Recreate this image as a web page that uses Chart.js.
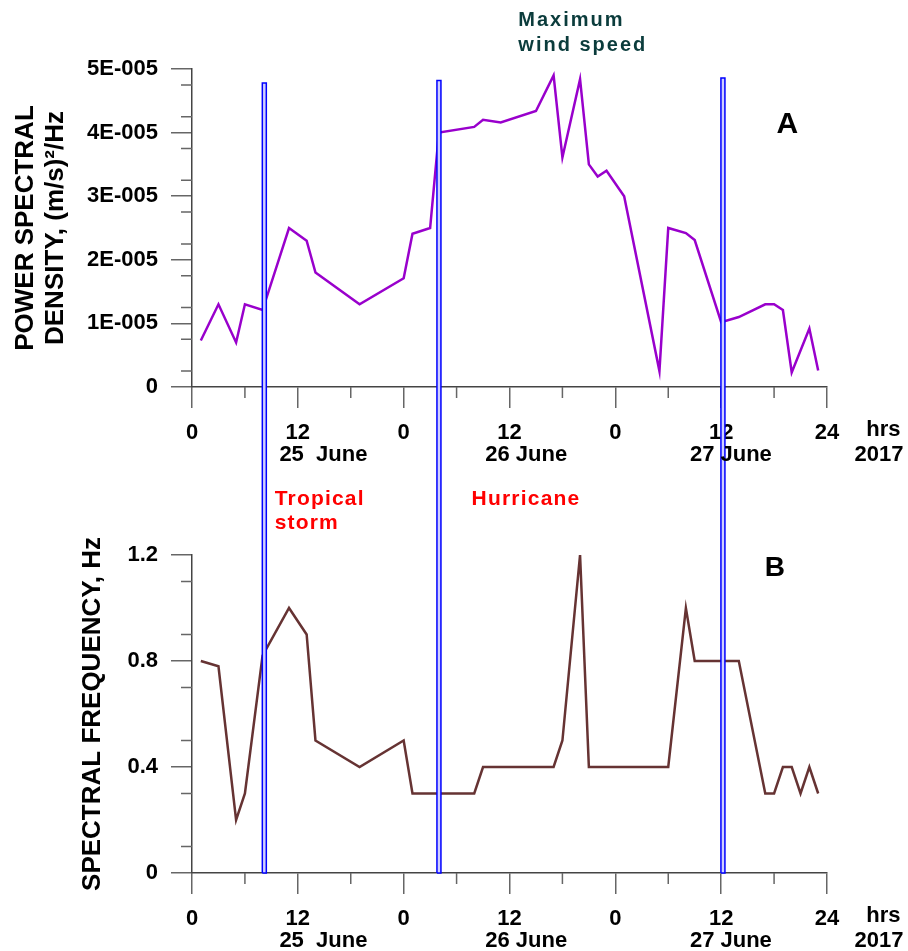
<!DOCTYPE html>
<html>
<head>
<meta charset="utf-8">
<script src="https://cdn.jsdelivr.net/npm/chart.js@4.4.0/dist/chart.umd.min.js"></script>
<style>
  body { margin: 0; background: #fff; }
  #wrap { position: relative; width: 908px; height: 951px; overflow: hidden; }
  canvas { position: absolute; left: 0; }
  #chartA { top: 0; }
  #chartB { top: 475px; }
</style>
</head>
<body>
<div id="wrap">
  <canvas id="chartA" width="908" height="475"></canvas>
  <canvas id="chartB" width="908" height="476"></canvas>
</div>
<script>
// time axis: hours from 00 h on 24 June 2017
const xTickLabels = ['0', '12', '0', '12', '0', '12', '24'];
const dateLabels = ['25  June', '26 June', '27 June', '2017'];
const dateHours = [14.9, 37.9, 61.1, 77.9];

// panel A - power spectral density, in units of 1E-005 (m/s)^2/Hz
const hoursA = [1, 3, 5, 6, 8, 11, 13, 14, 19, 24, 25, 27, 28, 32, 33, 35, 39, 41, 42, 44,
                45, 46, 47, 49, 53, 54, 56, 57, 60, 62, 65, 66, 67, 68, 70, 71];
const psd = [0.73, 1.30, 0.70, 1.30, 1.21, 2.50, 2.30, 1.80, 1.30, 1.71, 2.41, 2.50, 4.00, 4.09, 4.20, 4.16, 4.34, 4.90, 3.61, 4.84,
             3.50, 3.31, 3.40, 3.00, 0.25, 2.50, 2.42, 2.31, 1.02, 1.10, 1.30, 1.30, 1.21, 0.23, 0.92, 0.26];
const yTickLabelsA = ['0', '1E-005', '2E-005', '3E-005', '4E-005', '5E-005'];

// panel B - spectral frequency, Hz
const hoursB = [1, 3, 5, 6, 8, 11, 13, 14, 19, 24, 25, 32, 33, 41, 42, 44, 45, 54, 56, 57,
                62, 65, 66, 67, 68, 69, 70, 71];
const freq = [0.80, 0.78, 0.20, 0.30, 0.82, 1.00, 0.90, 0.50, 0.40, 0.50, 0.30, 0.30, 0.40, 0.40, 0.50, 1.20, 0.40, 0.40, 1.00, 0.80,
              0.80, 0.30, 0.30, 0.40, 0.40, 0.30, 0.40, 0.30];
const yTickLabelsB = ['0', '0.4', '0.8', '1.2'];

// vertical event markers (hours) and where they start in panel A
const markerHours = [8.2, 28.0, 60.2];
const markerTopsA = [4.78, 4.82, 4.86];

Chart.defaults.font.family = '"Liberation Sans", Arial, sans-serif';

const tickFont = { size: 22, weight: 'bold' };

// draws minor ticks, event markers and the text notes
const extras = {
  id: 'extras',
  afterDraw(chart, args, opts) {
    const ctx = chart.ctx;
    const x = chart.scales.x, y = chart.scales.y;
    ctx.save();

    // minor ticks
    ctx.strokeStyle = '#666';
    ctx.lineWidth = 1.5;
    ctx.beginPath();
    for (let v = 6; v < 72; v += 12) {
      const px = x.getPixelForValue(v);
      ctx.moveTo(px, y.bottom);
      ctx.lineTo(px, y.bottom + 11);
    }
    for (let v = opts.yStep / 2; v < y.max; v += opts.yStep) {
      const py = y.getPixelForValue(v);
      ctx.moveTo(x.left, py);
      ctx.lineTo(x.left - 11, py);
    }
    ctx.stroke();

    // event markers (narrow outlined bars)
    markerHours.forEach((h, i) => {
      const cx = x.getPixelForValue(h);
      const top = opts.panel === 'A' ? y.getPixelForValue(markerTopsA[i]) : 0;
      const bottom = opts.panel === 'A' ? chart.height : y.getPixelForValue(0);
      ctx.fillStyle = '#d0d0ff';
      ctx.fillRect(cx - 2, top, 4, bottom - top);
      ctx.strokeStyle = '#0000ff';
      ctx.lineWidth = 1.5;
      ctx.beginPath();
      ctx.moveTo(cx - 2, bottom);
      ctx.lineTo(cx - 2, top);
      if (opts.panel === 'A') ctx.lineTo(cx + 2, top);
      else ctx.moveTo(cx + 2, top);
      ctx.lineTo(cx + 2, bottom);
      if (opts.panel === 'B') ctx.lineTo(cx - 2, bottom);
      ctx.stroke();
    });

    // date row under the hour labels
    ctx.fillStyle = '#000';
    ctx.font = 'bold 22px "Liberation Sans", Arial, sans-serif';
    ctx.textAlign = 'center';
    ctx.textBaseline = 'middle';
    dateLabels.forEach((t, i) => {
      ctx.fillText(t, x.getPixelForValue(dateHours[i]), y.bottom + 68);
    });
    ctx.fillText('hrs', x.getPixelForValue(78.4), y.bottom + 43);

    // notes
    (opts.notes || []).forEach(n => {
      ctx.font = 'bold ' + n.size + 'px "Liberation Sans", Arial, sans-serif';
      ctx.fillStyle = n.color;
      ctx.textAlign = n.align;
      ctx.letterSpacing = (n.spacing || 0) + 'px';
      ctx.fillText(n.text, x.getPixelForValue(n.h), y.getPixelForValue(n.v));
    });
    ctx.restore();
  }
};

function makeChart(id, hours, values, color, cfg) {
  const points = hours.map((h, i) => ({ x: h, y: values[i] }));
  return new Chart(document.getElementById(id), {
    type: 'line',
    data: {
      datasets: [{
        data: points,
        borderColor: color,
        borderWidth: 2.5,
        pointRadius: 0,
        tension: 0
      }]
    },
    options: {
      responsive: false,
      animation: false,
      devicePixelRatio: 1,
      layout: { padding: { top: cfg.padTop, right: 81, left: 0, bottom: 0 } },
      plugins: {
        legend: { display: false },
        tooltip: { enabled: false },
        extras: { panel: cfg.panel, yStep: cfg.yStep, notes: cfg.notes }
      },
      scales: {
        x: {
          type: 'linear',
          min: 0,
          max: 72,
          afterFit: s => { s.height = cfg.xHeight; },
          ticks: {
            stepSize: 12,
            color: '#000',
            font: tickFont,
            padding: 12,
            maxRotation: 0,
            callback: v => xTickLabels[Math.round(v / 12)]
          },
          grid: { drawOnChartArea: false, tickLength: 21, color: '#666', lineWidth: 1.5 },
          border: { color: '#444', width: 1.5 }
        },
        y: {
          min: 0,
          max: cfg.yMax,
          afterFit: s => { s.width = 192; },
          ticks: {
            stepSize: cfg.yStep * 2,
            color: '#000',
            font: tickFont,
            padding: 13,
            callback: v => cfg.yLabels[Math.round(v / (cfg.yStep * 2))]
          },
          grid: { drawOnChartArea: false, tickLength: 21, color: '#666', lineWidth: 1.5 },
          border: { color: '#444', width: 1.5 },
          title: {
            display: true,
            text: cfg.title,
            color: '#000',
            font: { size: 26, weight: 'bold', lineHeight: 1.15 },
            padding: { top: cfg.titlePad, bottom: 0 }
          }
        }
      }
    },
    plugins: [extras]
  });
}

makeChart('chartA', hoursA, psd, '#9900cc', {
  panel: 'A', padTop: 69, xHeight: 88, yMax: 5, yStep: 0.5, yLabels: yTickLabelsA,
  title: ['POWER SPECTRAL', 'DENSITY, (m/s)\u00b2/Hz'], titlePad: 11,
  notes: [
    { text: 'Maximum', h: 37, v: 5.77, size: 20, color: '#0b3c3c', align: 'left', spacing: 2 },
    { text: 'wind speed', h: 37, v: 5.37, size: 20, color: '#0b3c3c', align: 'left', spacing: 2 },
    { text: 'A', h: 67.5, v: 4.12, size: 30, color: '#000', align: 'center' }
  ]
});

makeChart('chartB', hoursB, freq, '#663333', {
  panel: 'B', padTop: 80, xHeight: 78, yMax: 1.2, yStep: 0.2, yLabels: yTickLabelsB,
  title: 'SPECTRAL FREQUENCY, Hz', titlePad: 78,
  notes: [
    { text: 'Tropical', h: 9.37, v: 1.41, size: 21, color: '#ff0000', align: 'left', spacing: 1.2 },
    { text: 'storm', h: 9.37, v: 1.32, size: 21, color: '#ff0000', align: 'left', spacing: 1.2 },
    { text: 'Hurricane', h: 31.7, v: 1.41, size: 21, color: '#ff0000', align: 'left', spacing: 1.2 },
    { text: 'B', h: 66.1, v: 1.149, size: 28, color: '#000', align: 'center' }
  ]
});
</script>
</body>
</html>
